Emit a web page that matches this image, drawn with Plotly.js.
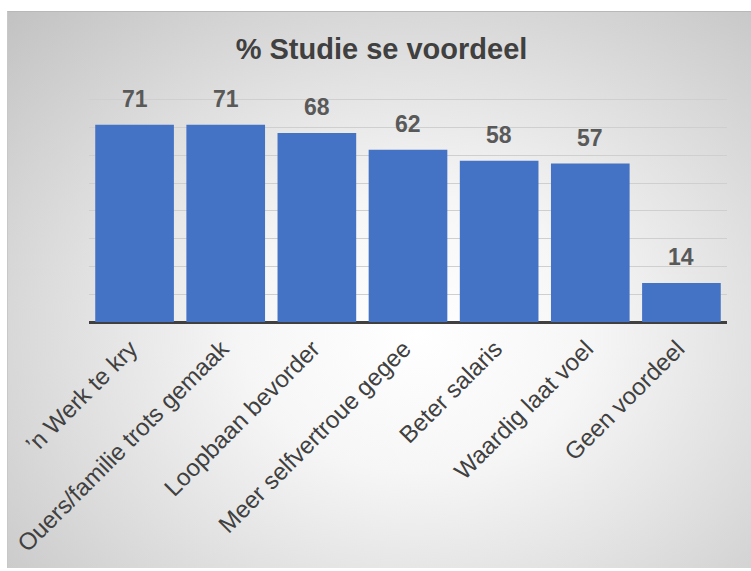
<!DOCTYPE html>
<html>
<head>
<meta charset="utf-8">
<script src="https://cdn.plot.ly/plotly-3.0.1.min.js"></script>
<style>
  html, body { margin: 0; padding: 0; background: #ffffff; }
  #bg {
    position: absolute; left: 7px; top: 11px; width: 744px; height: 556px;
    background: radial-gradient(ellipse farthest-corner at 55% 58%, #ffffff 0%, #f6f6f6 30%, #c2c2c2 100%);
    border-top: 1px solid #b8b8b8;
    border-left: 1px solid #c8c8c8;
  }
  #chart { position: absolute; left: 0; top: 0; width: 751px; height: 571px; }
</style>
</head>
<body>
<div id="bg"></div>
<div id="chart"></div>
<script>
const categories = ["\u2019n Werk te kry", "Ouers/familie trots gemaak", "Loopbaan bevorder", "Meer selfvertroue gegee", "Beter salaris", "Waardig laat voel", "Geen voordeel"];
const values = [71, 71, 68, 62, 58, 57, 14];
const chartTitle = "% Studie se voordeel";

const trace = {
  type: "bar",
  x: categories,
  y: values,
  marker: { color: "#4472C4" },
  hoverinfo: "x+y"
};

const annotations = categories.map((c, i) => ({
  x: c, y: values[i], xref: "x", yref: "y",
  text: "<b>" + values[i] + "</b>",
  showarrow: false, yanchor: "bottom", yshift: 11,
  font: { family: "Liberation Sans, Arial, sans-serif", size: 23, color: "#595959" }
}));

const layout = {
  width: 751, height: 571,
  paper_bgcolor: "rgba(0,0,0,0)",
  plot_bgcolor: "rgba(0,0,0,0)",
  margin: { l: 89, r: 24, t: 98, b: 249, pad: 0 },
  title: {
    text: "<b>" + chartTitle + "</b>",
    x: 0.508, xanchor: "center", y: 0.915, yanchor: "middle",
    font: { family: "Liberation Sans, Arial, sans-serif", size: 29, color: "#404040" }
  },
  bargap: 0.137,
  showlegend: false,
  xaxis: {
    type: "category",
    tickangle: -45,
    tickfont: { family: "Liberation Sans, Arial, sans-serif", size: 24, color: "#404040" },
    ticklabelstandoff: 7,
    ticklabelshift: -4,
    showline: false, ticks: "", showgrid: false
  },
  yaxis: {
    range: [0, 80.6], dtick: 10, tick0: 0,
    showticklabels: false, ticks: "",
    showgrid: true, gridcolor: "#cfcfcf", gridwidth: 1,
    zeroline: true, zerolinecolor: "#404040", zerolinewidth: 3,
    showline: false
  },
  annotations: annotations
};

Plotly.newPlot("chart", [trace], layout, { displayModeBar: false, staticPlot: true });
</script>
</body>
</html>
